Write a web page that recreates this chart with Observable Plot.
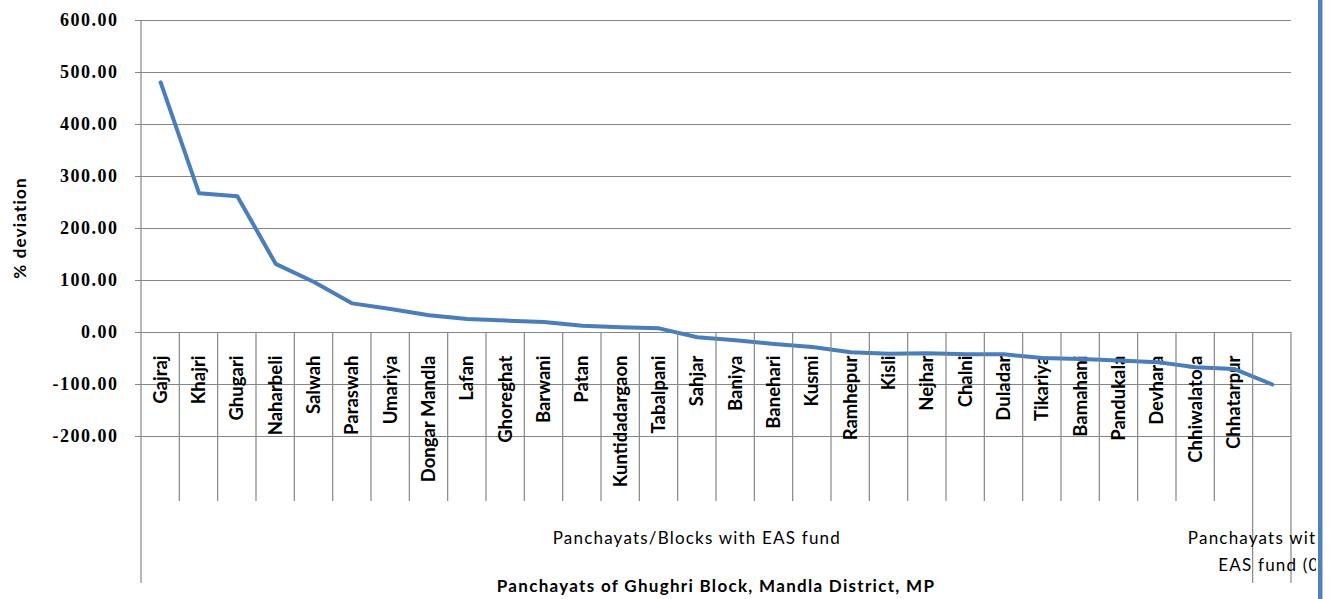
<!DOCTYPE html>
<html><head><meta charset="utf-8">
<script src="https://cdn.jsdelivr.net/npm/d3@7"></script>
<script src="https://cdn.jsdelivr.net/npm/@observablehq/plot@0.6"></script>
<style>
body{margin:0;background:#fff}
svg{display:block}
g[aria-label="y-axis tick label"] text{font-family:"Liberation Serif",serif;font-weight:bold;font-size:18px;letter-spacing:1.5px;fill:#000}
</style>
</head><body><div id="chart"></div>
<script>
const categories = ["Gajraj","Khajri","Ghugari","Naharbeli","Salwah","Paraswah","Umariya","Dongar Mandla","Lafan","Ghoreghat","Barwani","Patan","Kuntidadargaon","Tabalpani","Sahjar","Baniya","Banehari","Kusmi","Ramhepur","Kisli","Nejhar","Chalni","Duladar","Tikariya","Bamahani","Pandukala","Devhara","Chhiwalatola","Chhatarpur",""];
const deviation = [481,268,262,132,97,56,45,33,26,23,20,13,10,8,-9,-15,-22,-28,-38,-41,-40,-42,-42,-49,-51,-54,-57,-67,-70,-100];
const yTicks = [-200,-100,0,100,200,300,400,500,600];
const groupLabels = [["Panchayats/Blocks with EAS fund"], ["Panchayats without","EAS fund (0)"]];
const groupSizes = [29, 1];
const yTitle = "% deviation";
const xTitle = "Panchayats of Ghughri Block, Mandla District, MP";

const data = categories.map((c, i) => ({name: c, value: deviation[i]}));

const chart = Plot.plot({
  width: 1333, height: 599,
  marginLeft: 141, marginRight: 42, marginTop: 20, marginBottom: 163,
  style: {fontFamily: "Lato, sans-serif", background: "#fff", color: "#000", overflow: "visible"},
  x: {type: "band", domain: categories, padding: 0, round: false, axis: null},
  y: {domain: [-200, 600], axis: null},
  marks: [
    Plot.ruleY(yTicks, {stroke: "#868686", strokeWidth: 1.2}),
    Plot.axisY({ticks: yTicks, tickFormat: d => d.toFixed(2), tickSize: 6, tickPadding: 17, stroke: "#868686", label: null}),
    Plot.text(data.filter(d => d.name), {x: "name", y: 0, text: "name", rotate: -90, textAnchor: "end", dy: 23, fontSize: 18.5, fontWeight: "bold", fill: "#000", letterSpacing: "2.2px"}),
    Plot.line(data, {x: "name", y: "value", stroke: "#4a7ebb", strokeWidth: 4, strokeLinejoin: "round"})
  ]
});
document.getElementById("chart").appendChild(chart);

const svg = d3.select(chart);
const xs = chart.scale("x"), ys = chart.scale("y");
const band = d3.scaleBand().domain(xs.domain).range(xs.range).padding(0);
const step = band.step(), x0 = band.range()[0];
const yZero = ys.apply(0), yTop = ys.apply(600), yMin = ys.apply(-200);
const labelBottom = yMin + 65, groupBottom = yMin + 147;

const deco = svg.append("g");
const boundaries = [0];
groupSizes.reduce((a, s) => { boundaries.push(a + s); return a + s; }, 0);
for (let i = 0; i <= categories.length; i++) {
  const x = x0 + i * step;
  const isGroup = boundaries.includes(i);
  deco.append("line")
    .attr("x1", x).attr("x2", x)
    .attr("y1", i === 0 ? yTop : yZero)
    .attr("y2", isGroup ? groupBottom : labelBottom)
    .attr("stroke", "#868686").attr("stroke-width", 1.2);
}

svg.append("defs").append("clipPath").attr("id", "clipR")
  .append("rect").attr("x", 0).attr("y", 0).attr("width", 1316).attr("height", 599);

let start = 0;
groupSizes.forEach((s, gi) => {
  const cx = x0 + (start + s / 2) * step;
  const lines = groupLabels[gi];
  lines.forEach((t, li) => {
    svg.append("text").attr("clip-path", "url(#clipR)")
      .attr("x", cx).attr("y", yMin + 108 + li * 27)
      .attr("text-anchor", "middle")
      .attr("font-family", "Lato, sans-serif").attr("font-size", 17)
      .attr("letter-spacing", "1.2px")
      .attr("fill", "#000").text(t);
  });
  start += s;
});

svg.append("text")
  .attr("x", (band.range()[0] + band.range()[1]) / 2).attr("y", yMin + 156)
  .attr("text-anchor", "middle")
  .attr("font-family", "Lato, sans-serif").attr("font-size", 17).attr("font-weight", "bold")
  .attr("letter-spacing", "1.3px")
  .attr("fill", "#000").text(xTitle);

svg.append("text")
  .attr("transform", `translate(20,${(yTop + yMin) / 2}) rotate(-90)`)
  .attr("text-anchor", "middle").attr("dy", "0.35em")
  .attr("font-family", "Lato, sans-serif").attr("font-size", 17).attr("font-weight", "bold")
  .attr("letter-spacing", "1.2px")
  .attr("fill", "#000").text(yTitle);

svg.append("rect").attr("x", 1318).attr("y", 0).attr("width", 4.5).attr("height", 599).attr("fill", "#4f81bd");
</script>
</body></html>
